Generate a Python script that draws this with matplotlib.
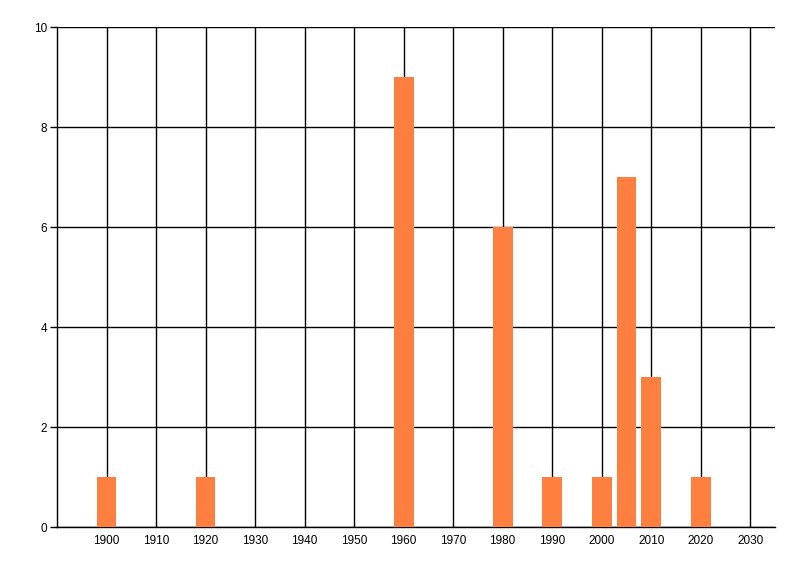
import matplotlib
matplotlib.use("Agg")
import matplotlib.pyplot as plt

years = [1900, 1920, 1960, 1980, 1990, 2000, 2005, 2010, 2020]
counts = [1, 1, 9, 6, 1, 1, 7, 3, 1]
xticks = list(range(1900, 2031, 10))
yticks = [0, 2, 4, 6, 8, 10]

plt.rcParams['font.family'] = ['Liberation Sans', 'DejaVu Sans']

fig = plt.figure(figsize=(8, 5.76), dpi=100)
ax = fig.add_axes([57/800, 1 - 527/576, (775 - 57)/800, 500/576])

ax.bar(years, counts, width=4, color='#FF7F40', zorder=3)

ax.set_xlim(1890, 2035)
ax.set_ylim(0, 10)
ax.set_xticks(xticks)
ax.set_yticks(yticks)
ax.tick_params(axis='x', length=0, pad=6, labelsize=8.5)
ax.tick_params(axis='y', length=5, width=1, pad=2, labelsize=8.5)

# gridlines, including the left one at 1890
ax.grid(True, color='black', linewidth=1, zorder=1)
for s in ['top', 'right']:
    ax.spines[s].set_visible(False)
ax.spines['left'].set_linewidth(1)
ax.spines['bottom'].set_linewidth(1)

fig.savefig("out.png", dpi=100)
